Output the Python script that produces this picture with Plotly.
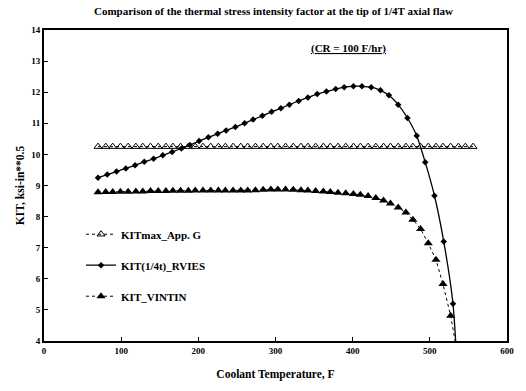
import plotly.graph_objects as go

title_text = "Comparison of the thermal stress intensity factor at the tip of 1/4T axial flaw"
x_title = "Coolant Temperature, F"
y_title = "KIT, ksi-in**0.5"
note_text = "(CR = 100 F/hr)"

x_ticks = [0, 100, 200, 300, 400, 500, 600]
y_ticks = [4, 5, 6, 7, 8, 9, 10, 11, 12, 13, 14]

# KITmax_App. G (open triangles)
kitmax_x = [70, 80, 89, 99, 109, 119, 128, 138, 148, 158, 167, 177, 187, 196, 206, 216,
            226, 235, 245, 255, 264, 274, 284, 294, 303, 313, 323, 333, 342, 352, 362, 371,
            381, 391, 401, 410, 420, 430, 440, 449, 459, 469, 478, 488, 498, 508, 517, 527,
            537, 546, 556]
kitmax_y = [10.25] * len(kitmax_x)

# KIT(1/4t)_RVIES (diamonds, solid)
rvies_x = [70, 82, 94, 106, 118, 130, 142, 154, 166, 178, 189, 201, 213, 225, 236, 248,
           260, 271, 283, 295, 307, 318, 330, 342, 354, 366, 378, 389, 401, 412, 424, 436,
           447, 459, 471, 483, 494, 506, 518, 530, 540]
rvies_y = [9.25, 9.35, 9.45, 9.55, 9.65, 9.76, 9.86, 9.97, 10.08, 10.19, 10.30, 10.43,
           10.55, 10.66, 10.77, 10.88, 11.00, 11.12, 11.24, 11.37, 11.48, 11.60, 11.72,
           11.83, 11.94, 12.02, 12.10, 12.16, 12.19, 12.19, 12.16, 12.06, 11.90, 11.60,
           11.17, 10.60, 9.75, 8.67, 7.20, 5.20, 1.00]

# KIT_VINTIN (filled triangles, dotted)
vintin_x = [70, 80, 89, 99, 109, 119, 128, 138, 148, 158, 167, 177, 187, 196, 206, 216,
            226, 235, 245, 255, 264, 274, 284, 294, 303, 313, 323, 333, 342, 352, 362, 371,
            381, 391, 401, 410, 420, 430, 440, 449, 459, 469, 478, 488, 498, 508, 517, 527,
            537]
vintin_y = [8.78, 8.79, 8.79, 8.80, 8.80, 8.81, 8.81, 8.82, 8.82, 8.82, 8.83, 8.83,
            8.83, 8.84, 8.84, 8.84, 8.84, 8.84, 8.84, 8.84, 8.84, 8.85, 8.86, 8.87,
            8.87, 8.87, 8.86, 8.85, 8.84, 8.82, 8.81, 8.79, 8.77, 8.75, 8.73, 8.70,
            8.66, 8.60, 8.52, 8.42, 8.29, 8.13, 7.90, 7.60, 7.14, 6.61, 5.83, 4.81, 3.40]

FONT = "Liberation Serif"

fig = go.Figure()
fig.add_trace(go.Scatter(
    x=kitmax_x, y=kitmax_y, name="<b>KITmax_App. G</b>", mode="lines+markers",
    line=dict(color="black", width=1, dash="dot"),
    marker=dict(symbol="triangle-up-open", size=7, color="black", line=dict(width=1)),
    legendgroup="a"))
fig.add_trace(go.Scatter(
    x=rvies_x, y=rvies_y, name="<b>KIT(1/4t)_RVIES</b>", mode="lines+markers",
    line=dict(color="black", width=1.3, shape="spline", smoothing=0.6),
    marker=dict(symbol="diamond", size=5, color="black"),
    legendgroup="b"))
fig.add_trace(go.Scatter(
    x=vintin_x, y=vintin_y, name="<b>KIT_VINTIN</b>", mode="lines+markers",
    line=dict(color="black", width=1, dash="dot"),
    marker=dict(symbol="triangle-up", size=8, color="black"),
    legendgroup="c"))

fig.update_layout(
    width=526, height=391,
    margin=dict(l=44, r=14, t=30, b=46),
    paper_bgcolor="white", plot_bgcolor="white",
    font=dict(family=FONT, color="black", size=10),
    title=dict(text="<b>" + title_text + "</b>", x=0.52, xanchor="center",
               y=0.972, yanchor="middle", font=dict(size=11, family=FONT)),
    showlegend=True,
    legend=dict(x=0.08, y=0.39, xanchor="left", yanchor="top",
                bgcolor="rgba(0,0,0,0)", borderwidth=0,
                font=dict(size=11, family=FONT), tracegroupgap=12,
                itemwidth=30),
    annotations=[dict(text="<b><u>" + note_text + "</u></b>", x=395, y=13.4,
                      xref="x", yref="y", showarrow=False,
                      font=dict(size=11, family=FONT))],
)
fig.update_xaxes(
    range=[0, 600], tickvals=x_ticks, ticktext=["<b>%d</b>" % v for v in x_ticks],
    showgrid=False, zeroline=False, showline=True, linecolor="black", linewidth=2,
    mirror=True, ticks="inside", ticklen=4, tickcolor="black", tickwidth=1,
    tickfont=dict(size=9, family=FONT),
    title=dict(text="<b>" + x_title + "</b>", font=dict(size=11.5, family=FONT), standoff=15))
fig.update_yaxes(
    range=[4, 14], tickvals=y_ticks, ticktext=["<b>%d</b>" % v for v in y_ticks],
    showgrid=False, zeroline=False, showline=True, linecolor="black", linewidth=2,
    mirror=True, ticks="inside", ticklen=4, tickcolor="black", tickwidth=1,
    tickfont=dict(size=9, family=FONT),
    title=dict(text="<b>" + y_title + "</b>", font=dict(size=11.5, family=FONT), standoff=4))

fig.write_html("out.html")
